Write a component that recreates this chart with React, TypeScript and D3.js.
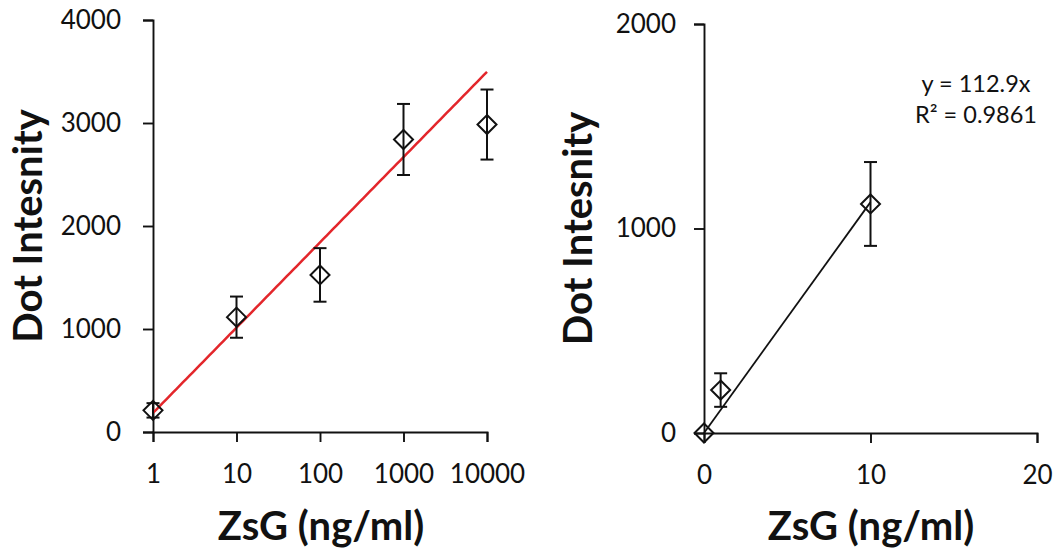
import React, { useEffect, useRef } from "react";
import * as d3 from "d3";

// ---- Left panel (log x) ----
const leftConc = [1, 10, 100, 1000, 10000];
const leftMean = [210, 1115, 1525, 2840, 2985];
const leftErr = [70, 200, 260, 345, 340];
const leftTicksX = [1, 10, 100, 1000, 10000];
const leftTicksY = [0, 1000, 2000, 3000, 4000];
const leftTrendCoef = [828, 185]; // y = a*log10(x) + b
const leftTrendRange = [1, 10000];

// ---- Right panel (linear x) ----
const rightConc = [0, 1, 10];
const rightMean = [0, 210, 1120];
const rightErr = [0, 82, 205];
const rightTicksX = [0, 10, 20];
const rightTicksY = [0, 1000, 2000];
const rightSlope = 112.9;
const rightTrendRange = [0, 10];
const rightEquation = ["y = 112.9x", "R² = 0.9861"];

const xTitle = "ZsG (ng/ml)";
const yTitle = "Dot Intesnity";

const FONT = "Lato, 'Open Sans', sans-serif";

export default function App() {
  const ref = useRef<SVGSVGElement | null>(null);

  useEffect(() => {
    const svg = d3.select(ref.current);
    svg.selectAll("*").remove();

    const drawPanel = (opts: any) => {
      const { x, y, conc, mean, err, ticksX, ticksY, tickFmt, padY, trend, trendColor, trendWidth, yTitleX, xTitleX } = opts;
      const g = svg.append("g");

      // axes
      const ya = d3.axisLeft(y).tickValues(ticksY).tickSize(10).tickSizeOuter(10).tickPadding(padY).tickFormat(d3.format("d") as any);
      const yg = g.append("g").attr("transform", `translate(${x.range()[0]},0)`).call(ya);
      const xa = d3.axisBottom(x).tickValues(ticksX).tickSize(10).tickSizeOuter(10).tickPadding(23).tickFormat(tickFmt);
      const xg = g.append("g").attr("transform", `translate(0,${y(0)})`).call(xa);
      [yg, xg].forEach((a) => {
        a.selectAll("path, line").attr("stroke", "#111").attr("stroke-width", 1.9);
        a.selectAll("text").attr("font-family", FONT).attr("font-size", 26).attr("fill", "#111");
      });

      // trend line
      let pts: [number, number][];
      if (trend.log) {
        const l0 = Math.log10(trend.range[0]);
        const l1 = Math.log10(trend.range[1]);
        pts = d3.range(0, 101).map((i) => {
          const lx = l0 + ((l1 - l0) * i) / 100;
          return [x(Math.pow(10, lx)), y(trend.f(Math.pow(10, lx)))];
        });
      } else {
        pts = [trend.range[0], trend.range[1]].map((v: number) => [x(v), y(trend.f(v))]);
      }
      g.append("path")
        .attr("d", d3.line()(pts))
        .attr("fill", "none")
        .attr("stroke", trendColor)
        .attr("stroke-width", trendWidth);

      // error bars
      const cap = 6.5;
      conc.forEach((c: number, i: number) => {
        if (err[i] <= 0) return;
        const cx = x(c);
        const y1 = y(mean[i] + err[i]);
        const y2 = y(mean[i] - err[i]);
        const eg = g.append("g").attr("stroke", "#111").attr("stroke-width", 2);
        eg.append("line").attr("x1", cx).attr("x2", cx).attr("y1", y1).attr("y2", y2);
        eg.append("line").attr("x1", cx - cap).attr("x2", cx + cap).attr("y1", y1).attr("y2", y1);
        eg.append("line").attr("x1", cx - cap).attr("x2", cx + cap).attr("y1", y2).attr("y2", y2);
      });

      // diamonds
      const r = 9.5;
      conc.forEach((c: number, i: number) => {
        const cx = x(c);
        const cy = y(mean[i]);
        g.append("path")
          .attr("d", `M${cx},${cy - r}L${cx + r},${cy}L${cx},${cy + r}L${cx - r},${cy}Z`)
          .attr("fill", "none")
          .attr("stroke", "#111")
          .attr("stroke-width", 2);
      });

      // titles
      const midY = (y.range()[0] + y.range()[1]) / 2;
      g.append("text")
        .attr("transform", `translate(${yTitleX},${midY}) rotate(-90)`)
        .attr("text-anchor", "middle")
        .attr("font-family", FONT)
        .attr("font-weight", 700)
        .attr("font-size", 40)
        .attr("fill", "#111")
        .text(yTitle);
      g.append("text")
        .attr("x", xTitleX)
        .attr("y", 540)
        .attr("text-anchor", "middle")
        .attr("font-family", FONT)
        .attr("font-weight", 700)
        .attr("font-size", 40)
        .attr("fill", "#111")
        .text(xTitle);
      return g;
    };

    // Left
    const xL = d3.scaleLog().domain([leftTicksX[0], leftTicksX[leftTicksX.length - 1]]).range([153, 487]);
    const yL = d3.scaleLinear().domain([leftTicksY[0], leftTicksY[leftTicksY.length - 1]]).range([432, 20]);
    drawPanel({
      x: xL,
      y: yL,
      conc: leftConc,
      mean: leftMean,
      err: leftErr,
      ticksX: leftTicksX,
      ticksY: leftTicksY,
      tickFmt: d3.format("d"),
      padY: 22,
      trend: { log: true, range: leftTrendRange, f: (v: number) => leftTrendCoef[0] * Math.log10(v) + leftTrendCoef[1] },
      trendColor: "#e3262b",
      trendWidth: 2.5,
      yTitleX: 42,
      xTitleX: 321,
    });

    // Right
    const xR = d3.scaleLinear().domain([rightTicksX[0], rightTicksX[rightTicksX.length - 1]]).range([704, 1037]);
    const yR = d3.scaleLinear().domain([rightTicksY[0], rightTicksY[rightTicksY.length - 1]]).range([433, 24]);
    const gR = drawPanel({
      x: xR,
      y: yR,
      conc: rightConc,
      mean: rightMean,
      err: rightErr,
      ticksX: rightTicksX,
      ticksY: rightTicksY,
      tickFmt: d3.format("d"),
      padY: 18,
      trend: { log: false, range: rightTrendRange, f: (v: number) => rightSlope * v },
      trendColor: "#111",
      trendWidth: 1.8,
      yTitleX: 592,
      xTitleX: 871,
    });

    gR.append("g")
      .selectAll("text")
      .data(rightEquation)
      .join("text")
      .attr("x", 976)
      .attr("y", (_d, i) => 92 + i * 31)
      .attr("text-anchor", "middle")
      .attr("font-family", FONT)
      .attr("font-size", 23.5)
      .attr("fill", "#111")
      .text((d) => d);
  }, []);

  return (
    <svg
      ref={ref}
      width={1058}
      height={552}
      style={{ position: "absolute", left: 0, top: 0, background: "#fff" }}
    />
  );
}
